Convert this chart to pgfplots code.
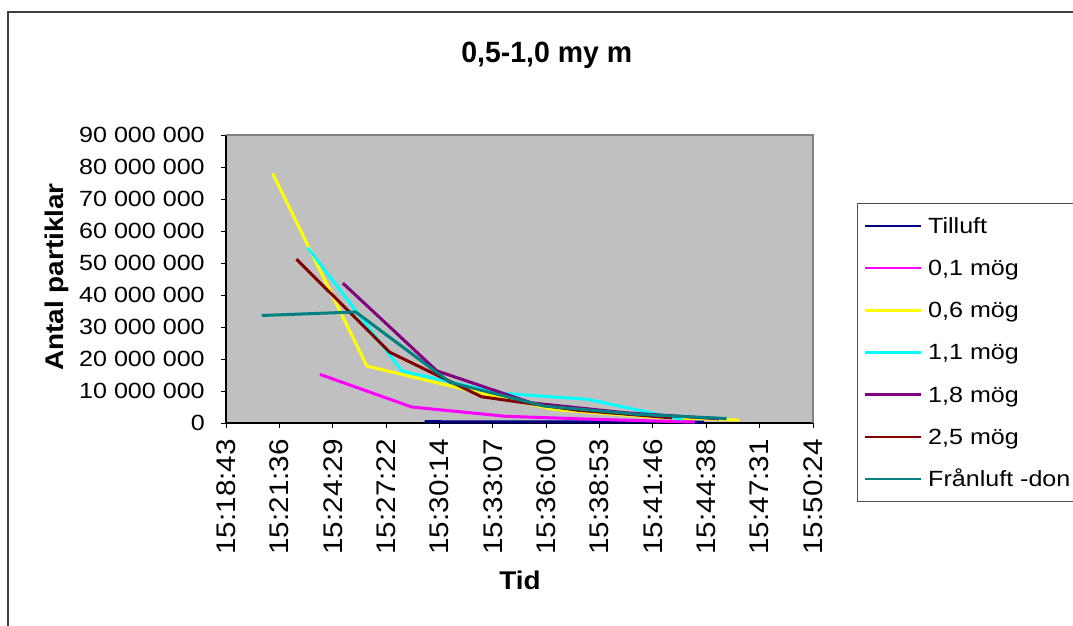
\documentclass[border=0pt]{standalone}
\usepackage{fontspec}
\setmainfont{Liberation Sans}
\newfontfamily\fy{Liberation Sans}[FakeStretch=1.14]
\newfontfamily\fx{Liberation Sans}[FakeStretch=1.10]
\newfontfamily\ft{Liberation Sans}[FakeStretch=0.97]
\newfontfamily\fl{Liberation Sans}[FakeStretch=1.09]
\usepackage{pgfplots}
\pgfplotsset{compat=1.18}
\definecolor{plotgray}{HTML}{C0C0C0}
\definecolor{cnavy}{HTML}{000080}
\definecolor{cmag}{HTML}{FF00FF}
\definecolor{cyel}{HTML}{FFFF00}
\definecolor{ccyan}{HTML}{00FFFF}
\definecolor{cpurp}{HTML}{800080}
\definecolor{cmaroon}{HTML}{800000}
\definecolor{cteal}{HTML}{008080}
\begin{document}
\begin{tikzpicture}
\useasboundingbox (0,0) rectangle (804.75pt,468.75pt);
\fill[white] (0,0) rectangle (804.75pt,468.75pt);
\begin{scope}[x=0.75pt,y=-0.75pt,yshift=468.75pt]
  \draw[black!75, line width=1pt] (8,12) rectangle (1100,660);
  \node[anchor=base, inner sep=0pt, font=\ft\bfseries\fontsize{22pt}{24pt}\selectfont] at (546.7,62.7) {0,5-1,0 my m};
  \node[anchor=base, rotate=90, inner sep=0pt, font=\fl\bfseries\fontsize{19.2pt}{21pt}\selectfont] at (63.3,277) {Antal partiklar};
  \node[anchor=base, inner sep=0pt, font=\fl\bfseries\fontsize{19.2pt}{21pt}\selectfont] at (520,589) {Tid};
\end{scope}
\begin{axis}[
  at={(169.5pt,151.5pt)}, anchor=south west,
  scale only axis, width=440.25pt, height=216pt,
  xmin=0, xmax=11, ymin=0, ymax=90000000,
  clip=false,
  axis lines*=left,
  axis line style={black, line width=0.9pt},
  axis background/.style={fill=plotgray},
  xtick={0,1,2,3,4,5,6,7,8,9,10,11},
  xticklabels={15:18:43,15:21:36,15:24:29,15:27:22,15:30:14,15:33:07,15:36:00,15:38:53,15:41:46,15:44:38,15:47:31,15:50:24},
  ytick={0,10000000,20000000,30000000,40000000,50000000,60000000,70000000,80000000,90000000},
  yticklabels={0,10 000 000,20 000 000,30 000 000,40 000 000,50 000 000,60 000 000,70 000 000,80 000 000,90 000 000},
  scaled y ticks=false,
  tick align=outside,
  major tick length=3.75pt,
  tick style={black, line width=0.75pt},
  xticklabel style={rotate=90, anchor=east, inner sep=0pt, font=\fx\fontsize{20.2pt}{21pt}\selectfont, xshift=-8.25pt},
  yticklabel style={anchor=east, inner sep=0pt, font=\fy\fontsize{16.5pt}{18pt}\selectfont, xshift=-12pt},
  legend style={at={(1.075,0.7639)}, anchor=north west,
    draw=black!70, line width=0.75pt, fill=white,
    inner xsep=4.5pt, inner ysep=9.4pt, row sep=16.95pt,
    nodes={inner sep=0pt, text height=13pt, text depth=1.7pt, font=\fy\fontsize{16.5pt}{18pt}\selectfont},
    /tikz/every odd column/.append style={column sep=4.5pt}},
  legend cell align=left,
  legend image code/.code={\draw[#1, line width=2pt] (0pt,0pt) -- (42pt,0pt);},
  every axis plot/.append style={line width=2.25pt, line join=round},
]
\addplot[cnavy] coordinates {(3.72,400000) (5.48,350000) (7.24,350000) (8.96,300000)};
\addlegendentry{Tilluft}
\addplot[cmag] coordinates {(1.76,15200000) (3.48,5000000) (5.24,2100000) (7.0,1100000) (8.78,300000)};
\addlegendentry{0,1 mög}
\addplot[cyel] coordinates {(0.875,78000000) (2.64,17800000) (4.40,10800000) (6.16,4200000) (7.92,1900000) (9.62,900000)};
\addlegendentry{0,6 mög}
\addplot[ccyan] coordinates {(1.53,54800000) (3.30,16200000) (5.15,9300000) (6.78,7400000) (8.55,1100000)};
\addlegendentry{1,1 mög}
\addplot[cpurp] coordinates {(2.19,43700000) (3.95,16300000) (5.72,6300000) (7.48,3200000) (9.24,1300000)};
\addlegendentry{1,8 mög}
\addplot[cmaroon] coordinates {(1.32,51200000) (3.07,22100000) (4.79,8200000) (6.58,4000000) (8.36,1600000)};
\addlegendentry{2,5 mög}
\addplot[cteal] coordinates {(0.67,33600000) (2.43,34700000) (4.20,12700000) (5.96,5300000) (7.72,2700000) (9.38,1400000)};
\addlegendentry{\makebox[120pt][l]{Frånluft -don}}
\draw[black!50, line width=1.5pt] (rel axis cs:0,1) -- (rel axis cs:1,1) -- (rel axis cs:1,0);
\end{axis}
\end{tikzpicture}
\end{document}
